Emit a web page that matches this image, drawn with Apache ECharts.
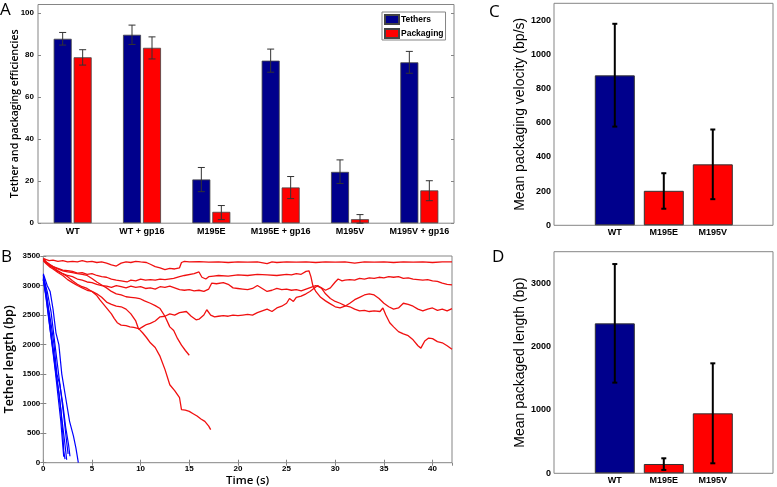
<!DOCTYPE html>
<html><head><meta charset="utf-8">
<script src="https://cdn.jsdelivr.net/npm/echarts@6/dist/echarts.min.js"></script>
<style>html,body{margin:0;padding:0;background:#fff}#c{width:777px;height:487px}</style>
</head><body><div id="c"></div>
<script>
// ---- Panel A data ----
const effCategories = ['WT','WT + gp16','M195E','M195E + gp16','M195V','M195V + gp16'];
const tethers      = [87.7, 89.6, 20.8, 77.3, 24.4, 76.5];
const tethersLow   = [84.7, 85.0, 15.0, 71.8, 18.9, 71.3];
const tethersHigh  = [90.7, 94.2, 26.5, 82.8, 30.1, 81.7];
const packaging     = [78.9, 83.4, 5.4, 17.0, 1.9, 15.6];
const packagingLow  = [75.2, 78.1, 1.7, 11.7, 0.0, 10.7];
const packagingHigh = [82.5, 88.6, 8.4, 22.2, 4.1, 20.2];

// ---- Panel B data (time s, tether length bp) ----
const redA = [[0,3460],[0.3,3440],[0.6,3420],[1,3430],[1.5,3410],[2,3420],[2.5,3400],[3,3410],[3.5,3400],[4,3420],[4.5,3400],[5,3410],[5.5,3390],[6,3400],[6.5,3380],[7,3350],[7.5,3330],[8,3380],[8.5,3400],[9,3390],[9.5,3410],[10,3400],[10.6,3390],[11,3360],[11.5,3320],[12,3300],[12.5,3270],[13,3290],[13.5,3280],[14,3300],[14.2,3390],[14.5,3410],[15,3400],[16,3405],[17,3395],[18,3400],[19,3390],[20,3400],[21,3395],[22,3400],[23,3370],[23.5,3400],[24,3390],[25,3400],[26,3395],[27,3400],[28,3390],[29,3400],[30,3395],[31,3400],[32,3380],[33,3400],[34,3395],[35,3400],[36,3390],[37,3400],[38,3395],[39,3400],[40,3390],[41,3400],[42,3400]];
const redB = [[0,3450],[0.3,3400],[0.7,3350],[1,3320],[1.5,3290],[2,3260],[2.5,3250],[3,3240],[3.5,3210],[4,3220],[4.5,3190],[5,3200],[5.5,3170],[6,3150],[6.5,3140],[7,3110],[7.5,3090],[8,3080],[8.6,3060],[9,3090],[9.5,3080],[10,3110],[10.5,3090],[11,3100],[11.5,3090],[12,3110],[12.5,3100],[13.4,3120],[14,3150],[14.5,3170],[15.5,3200],[16,3230],[16.3,3140],[16.7,3110],[17,3150],[17.5,3160],[18,3170],[19,3160],[20,3180],[21,3170],[22,3190],[23,3180],[24,3170],[25,3190],[25.5,3180],[26,3200],[26.5,3190],[27,3240],[27.3,3250],[27.5,3150],[27.7,3000],[28,2900],[28.5,2800],[29,2740],[29.5,2690],[30,2640],[30.5,2620],[31,2650],[31.5,2700],[32,2760],[32.5,2800],[33,2840],[33.5,2860],[34,2840],[34.5,2780],[35,2700],[35.5,2640],[36,2600],[36.5,2620],[37,2700],[37.5,2680],[38,2650],[38.5,2600],[39,2570],[39.5,2600],[40,2620],[40.5,2580],[41,2600],[41.5,2570],[42,2610]];
const redC = [[0,3440],[0.3,3380],[0.7,3330],[1,3300],[1.5,3240],[2,3200],[2.5,3170],[3,3150],[3.5,3110],[4,3090],[4.5,3060],[5,3050],[5.5,3020],[6,3000],[6.5,2990],[7,2970],[7.5,3000],[8,2980],[8.5,2960],[9,2990],[9.5,2970],[10,2980],[10.5,2950],[11,2960],[11.5,2940],[12,2980],[12.5,2970],[13,2990],[13.5,2960],[14,2930],[14.5,2920],[15,2930],[15.5,2910],[16,2920],[16.5,2900],[17,2940],[17.3,3040],[17.8,3030],[18.5,3050],[19,3020],[19.5,2960],[20,2950],[20.5,2940],[21,2930],[21.5,2950],[22,3000],[22.5,2950],[23,2900],[23.5,2920],[24,2950],[24.5,2930],[25,2940],[25.5,2920],[26,2930],[26.5,2910],[27,2940],[27.5,2970],[28,3000],[28.5,2970],[29,2920],[29.5,2960],[30,3060],[30.3,3110],[30.7,3080],[31,3090],[31.5,3100],[32,3090],[32.5,3120],[33,3110],[33.5,3130],[34,3120],[34.5,3140],[35,3130],[35.5,3150],[36,3140],[36.5,3150],[37,3120],[37.5,3130],[38,3110],[38.5,3100],[39,3090],[39.5,3100],[40,3080],[40.5,3070],[41,3040],[41.5,3020],[42,3010]];
const redD = [[0,3420],[0.3,3370],[0.7,3310],[1,3280],[1.5,3220],[2,3170],[2.5,3100],[3,3050],[3.5,3000],[4,2960],[4.5,2920],[5,2900],[5.5,2860],[6,2800],[6.5,2720],[7,2680],[7.5,2650],[8,2640],[8.5,2600],[9,2520],[9.5,2400],[9.8,2260],[10.2,2300],[10.6,2340],[11,2360],[11.5,2400],[12,2470],[12.5,2480],[13,2520],[13.5,2500],[14,2540],[14.7,2560],[15.2,2480],[15.7,2420],[16,2430],[16.5,2500],[16.8,2590],[17.2,2500],[17.6,2470],[18,2480],[18.5,2490],[19,2480],[19.5,2500],[20,2490],[20.5,2500],[21,2510],[21.5,2500],[22,2540],[22.5,2570],[23,2600],[23.5,2560],[24,2620],[24.5,2650],[25,2700],[25.3,2780],[25.7,2730],[26,2800],[26.5,2820],[27,2860],[27.4,2900],[27.8,2950],[28.2,3000],[28.6,2950],[29,2860],[29.5,2780],[30,2730],[30.5,2700],[31,2660],[31.5,2640],[32,2600],[32.5,2570],[33,2580],[33.5,2560],[34,2570],[34.6,2560],[34.9,2620],[35.2,2500],[35.6,2370],[36,2300],[36.5,2220],[37,2180],[37.5,2150],[38,2080],[38.5,1980],[38.8,1940],[39.2,2060],[39.6,2110],[40,2100],[40.5,2050],[41,2030],[41.5,1980],[42,1920]];
const redE = [[0,3440],[0.3,3390],[0.7,3340],[1,3300],[1.5,3250],[2,3200],[2.5,3150],[3,3080],[3.5,3020],[4,2980],[4.5,2950],[5,2900],[5.5,2830],[5.8,2760],[6.2,2680],[6.6,2600],[7,2520],[7.3,2440],[7.6,2370],[8,2330],[8.5,2320],[8.9,2300],[9.3,2290],[9.8,2270],[10.2,2200],[10.6,2120],[11,2030],[11.5,1950],[12,1800],[12.5,1580],[13,1320],[13.5,1220],[14,1100],[14.2,900],[14.6,890],[15,870],[15.4,830],[15.8,790],[16.2,740],[16.6,700],[17,620],[17.2,560]];
const redF = [[0,3450],[0.3,3400],[0.7,3350],[1,3320],[1.5,3280],[2,3250],[2.5,3230],[3,3220],[3.5,3200],[4,3190],[4.5,3170],[5,3120],[5.5,3060],[6,3010],[6.5,2960],[7,2900],[7.5,2860],[8,2840],[8.5,2810],[9,2800],[9.5,2790],[9.9,2780],[10.4,2740],[11,2700],[11.5,2660],[12,2610],[12.5,2480],[13,2300],[13.4,2240],[13.8,2100],[14.2,1990],[14.6,1900],[15,1820]];
const blueA = [[0,3180],[0.3,2900],[0.6,2500],[0.9,2080],[1.2,1700],[1.5,1300],[1.8,900],[2.0,500],[2.1,200],[2.23,60]];
const blueB = [[0,3120],[0.35,2700],[0.7,2250],[1.0,1900],[1.3,1500],[1.6,1200],[1.9,750],[2.2,350],[2.4,50]];
const blueC = [[0,3100],[0.4,2750],[0.8,2350],[1.1,2000],[1.4,1500],[1.7,1320],[2.0,1000],[2.3,600],[2.6,300],[2.74,110]];
const blueD = [[0,3200],[0.4,3000],[0.7,2900],[1.0,2600],[1.3,2200],[1.6,2000],[1.9,1500],[2.3,1100],[2.7,700],[3.1,450],[3.35,250],[3.6,0]];
const blueE = [[0,3150],[0.4,2900],[0.8,2550],[1.2,2000],[1.5,1600],[1.8,1200],[2.1,800],[2.4,350],[2.55,150]];
const blueF = [[0,3100],[0.3,2800],[0.6,2400],[0.9,2000],[1.2,1600],[1.5,1150],[1.8,700],[2.0,300],[2.1,100]];
const redTraces = [redA, redB, redC, redD, redE, redF];
const blueTraces = [blueA, blueB, blueC, blueD, blueE, blueF];

// ---- Panels C & D data ----
const mutCategories = ['WT','M195E','M195V'];
const velocity     = [878, 202, 357];
const velocityLow  = [578, 97, 153];
const velocityHigh = [1180, 305, 561];
const pkgLength     = [2368, 147, 947];
const pkgLengthLow  = [1432, 53, 158];
const pkgLengthHigh = [3305, 237, 1737];

const NAVY = '#00008c', RED = '#ff0000';
const TICKFONT = {fontFamily:'Liberation Sans, Arial, sans-serif', fontWeight:'bold', color:'#000'};
const NAMEFONT = {fontFamily:'Open Sans, sans-serif', fontWeight:600, color:'#000'};
const FRAME = '#858585';
const plain = v => String(v);

function errRender(offset, capHalf, color, width) {
  return function (params, api) {
    const x = api.value(0), lo = api.value(1), hi = api.value(2);
    const pLo = api.coord([x, lo]), pHi = api.coord([x, hi]);
    const cx = pLo[0] + offset;
    const st = {stroke: color, lineWidth: width};
    return {type: 'group', children: [
      {type: 'line', shape: {x1: cx, y1: pLo[1], x2: cx, y2: pHi[1]}, style: st},
      {type: 'line', shape: {x1: cx - capHalf, y1: pHi[1], x2: cx + capHalf, y2: pHi[1]}, style: st},
      {type: 'line', shape: {x1: cx - capHalf, y1: pLo[1], x2: cx + capHalf, y2: pLo[1]}, style: st}
    ]};
  };
}

const chart = echarts.init(document.getElementById('c'), null, {renderer: 'canvas'});
const hiddenTicks = {show: true, inside: true, length: 3, lineStyle: {color: FRAME}};

const series = [
  {name: 'Tethers', type: 'bar', xAxisIndex: 0, yAxisIndex: 0, data: tethers, barWidth: 18, barGap: '11%',
   itemStyle: {color: NAVY, borderColor: '#444', borderWidth: 0.8}},
  {name: 'Packaging', type: 'bar', xAxisIndex: 0, yAxisIndex: 0, data: packaging, barWidth: 18, barGap: '11%',
   itemStyle: {color: RED, borderColor: '#444', borderWidth: 0.8}},
  {type: 'custom', xAxisIndex: 0, yAxisIndex: 0, z: 5, renderItem: errRender(-10, 3.5, '#333', 1),
   data: effCategories.map((c, i) => [i, tethersLow[i], tethersHigh[i]])},
  {type: 'custom', xAxisIndex: 0, yAxisIndex: 0, z: 5, renderItem: errRender(10, 3.5, '#333', 1),
   data: effCategories.map((c, i) => [i, packagingLow[i], packagingHigh[i]])}
];
redTraces.forEach(tr => series.push({type: 'line', xAxisIndex: 1, yAxisIndex: 2, data: tr, showSymbol: false,
  lineStyle: {color: '#f01010', width: 1.3}, silent: true, animation: false}));
blueTraces.forEach(tr => series.push({type: 'line', xAxisIndex: 1, yAxisIndex: 2, data: tr, showSymbol: false,
  lineStyle: {color: '#0000ff', width: 1.2}, silent: true, animation: false}));
series.push(
  {type: 'bar', xAxisIndex: 4, yAxisIndex: 5, barWidth: 40,
   data: velocity.map((v, i) => ({value: v, itemStyle: {color: i === 0 ? NAVY : RED}})),
   itemStyle: {borderColor: '#333', borderWidth: 1}},
  {type: 'custom', xAxisIndex: 4, yAxisIndex: 5, z: 5, renderItem: errRender(0, 2.5, '#000', 2),
   data: mutCategories.map((c, i) => [i, velocityLow[i], velocityHigh[i]])},
  {type: 'bar', xAxisIndex: 6, yAxisIndex: 7, barWidth: 40,
   data: pkgLength.map((v, i) => ({value: v, itemStyle: {color: i === 0 ? NAVY : RED}})),
   itemStyle: {borderColor: '#333', borderWidth: 1}},
  {type: 'custom', xAxisIndex: 6, yAxisIndex: 7, z: 5, renderItem: errRender(0, 2.5, '#000', 2),
   data: mutCategories.map((c, i) => [i, pkgLengthLow[i], pkgLengthHigh[i]])}
);

const G = {outerBoundsMode: 'none', containLabel: false};
const option = {
  animation: false,
  backgroundColor: '#fff',
  grid: [
    Object.assign({left: 38, top: 4.5, width: 416, height: 218.7, show: true, borderColor: FRAME, borderWidth: 1, backgroundColor: '#fff'}, G),
    Object.assign({left: 43.3, top: 256, width: 408.7, height: 206.7, show: true, borderColor: FRAME, borderWidth: 1, backgroundColor: '#fff'}, G),
    Object.assign({left: 554, top: 3.3, width: 219, height: 222, show: true, borderColor: FRAME, borderWidth: 1, backgroundColor: '#fff'}, G),
    Object.assign({left: 590.3, top: 3.3, width: 147, height: 222, show: false}, G),
    Object.assign({left: 554, top: 251.7, width: 219, height: 221.6, show: true, borderColor: FRAME, borderWidth: 1, backgroundColor: '#fff'}, G),
    Object.assign({left: 590.3, top: 251.7, width: 147, height: 221.6, show: false}, G)
  ],
  legend: {
    data: ['Tethers', 'Packaging'], orient: 'vertical', left: 382, top: 12,
    itemWidth: 14, itemHeight: 9, itemGap: 3, icon: 'rect',
    padding: [2, 2, 1, 2], borderColor: FRAME, borderWidth: 1, backgroundColor: '#fff',
    textStyle: Object.assign({fontSize: 8.5, lineHeight: 9, padding: [0, 0, 0, -3]}, TICKFONT)
  },
  xAxis: [
    {type: 'category', gridIndex: 0, data: effCategories, axisLine: {show: false}, axisTick: {show: false},
     axisLabel: Object.assign({fontSize: 9, margin: 4, interval: 0}, TICKFONT)},
    {type: 'value', gridIndex: 1, min: 0, max: 42, interval: 5, axisLine: {show: false}, splitLine: {show: false},
     axisTick: hiddenTicks, axisLabel: Object.assign({fontSize: 8, margin: 2, showMaxLabel: false, formatter: plain}, TICKFONT),
     name: 'Time (s)', nameLocation: 'middle', nameGap: 12, nameMoveOverlap: false,
     nameTextStyle: Object.assign({fontSize: 11.5, verticalAlign: 'top'}, NAMEFONT)},
    {type: 'value', gridIndex: 1, min: 0, max: 42, interval: 5, position: 'top', axisLine: {show: false},
     splitLine: {show: false}, axisTick: hiddenTicks, axisLabel: {show: false}},
    {type: 'value', gridIndex: 2, min: 0, max: 1, show: false},
    {type: 'category', gridIndex: 3, data: mutCategories, axisLine: {show: false}, axisTick: {show: false},
     axisLabel: Object.assign({fontSize: 9, margin: 3}, TICKFONT)},
    {type: 'value', gridIndex: 4, min: 0, max: 1, show: false},
    {type: 'category', gridIndex: 5, data: mutCategories, axisLine: {show: false}, axisTick: {show: false},
     axisLabel: Object.assign({fontSize: 9, margin: 3}, TICKFONT)}
  ],
  yAxis: [
    {type: 'value', gridIndex: 0, min: 0, max: 104, interval: 20, axisLine: {show: false}, splitLine: {show: false},
     axisTick: hiddenTicks, axisLabel: Object.assign({fontSize: 8, margin: 4, showMaxLabel: false, formatter: plain}, TICKFONT),
     name: 'Tether and packaging efficiencies', nameLocation: 'middle', nameGap: 17, nameRotate: 90, nameMoveOverlap: false,
     nameTextStyle: Object.assign({fontSize: 10.5}, NAMEFONT)},
    {type: 'value', gridIndex: 0, min: 0, max: 104, interval: 20, position: 'right', axisLine: {show: false},
     splitLine: {show: false}, axisTick: hiddenTicks, axisLabel: {show: false}},
    {type: 'value', gridIndex: 1, min: 0, max: 3500, interval: 500, axisLine: {show: false}, splitLine: {show: false},
     axisTick: hiddenTicks, axisLabel: Object.assign({fontSize: 8, margin: 3, formatter: plain}, TICKFONT),
     name: 'Tether length (bp)', nameLocation: 'middle', nameGap: 27, nameRotate: 90, nameMoveOverlap: false,
     nameTextStyle: Object.assign({fontSize: 12.5}, NAMEFONT)},
    {type: 'value', gridIndex: 1, min: 0, max: 3500, interval: 500, position: 'right', axisLine: {show: false},
     splitLine: {show: false}, axisTick: hiddenTicks, axisLabel: {show: false}},
    {type: 'value', gridIndex: 2, min: 0, max: 1300, interval: 200, axisLine: {show: false}, splitLine: {show: false},
     axisTick: {show: false}, axisLabel: Object.assign({fontSize: 9, margin: 3, showMaxLabel: false, formatter: plain}, TICKFONT),
     name: 'Mean packaging velocity (bp/s)', nameLocation: 'middle', nameGap: 27, nameRotate: 90, nameMoveOverlap: false,
     nameTextStyle: {fontFamily: 'Liberation Sans, Arial, sans-serif', fontSize: 14, color: '#000'}},
    {type: 'value', gridIndex: 3, min: 0, max: 1300, show: false},
    {type: 'value', gridIndex: 4, min: 0, max: 3500, interval: 1000, axisLine: {show: false}, splitLine: {show: false},
     axisTick: {show: false}, axisLabel: Object.assign({fontSize: 9, margin: 3, showMaxLabel: false, formatter: plain}, TICKFONT),
     name: 'Mean packaged length (bp)', nameLocation: 'middle', nameGap: 27, nameRotate: 90, nameMoveOverlap: false,
     nameTextStyle: {fontFamily: 'Liberation Sans, Arial, sans-serif', fontSize: 14, color: '#000'}},
    {type: 'value', gridIndex: 5, min: 0, max: 3500, show: false}
  ],
  graphic: [
    {type: 'text', left: 0, top: 2, style: {text: 'A', font: '17px "Open Sans", sans-serif', fill: '#000'}},
    {type: 'text', left: 1, top: 249, style: {text: 'B', font: '17px "Open Sans", sans-serif', fill: '#000'}},
    {type: 'text', left: 489, top: 4, style: {text: 'C', font: '17px "Open Sans", sans-serif', fill: '#000'}},
    {type: 'text', left: 492, top: 249, style: {text: 'D', font: '17px "Open Sans", sans-serif', fill: '#000'}}
  ],
  series: series
};
chart.setOption(option);
</script></body></html>
